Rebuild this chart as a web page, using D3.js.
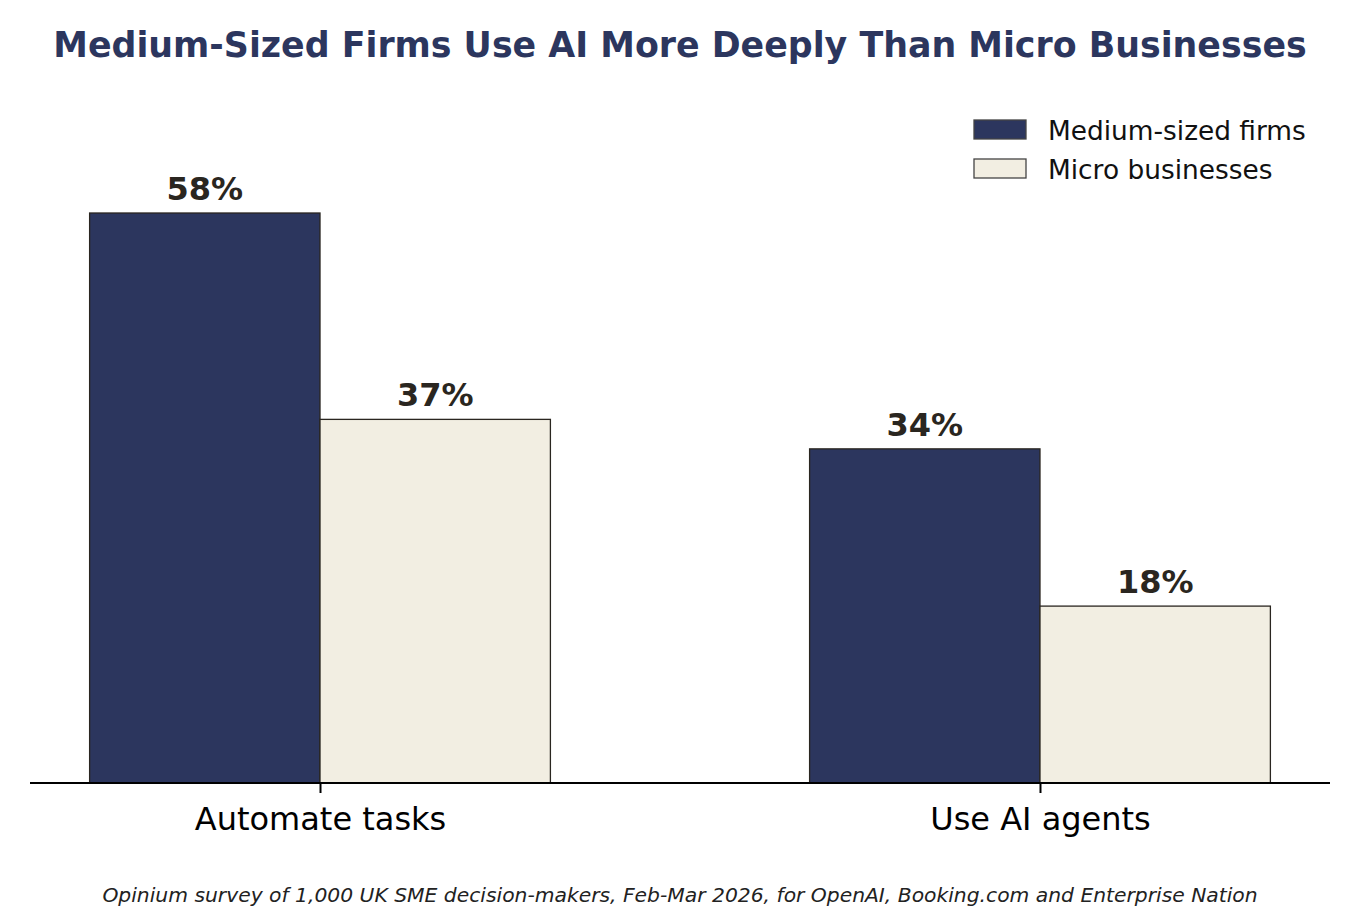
<!DOCTYPE html>
<html><head><meta charset="utf-8">
<script src="https://cdn.jsdelivr.net/npm/d3@7"></script>
<style>body{margin:0;background:#fff}svg{display:block}text{font-family:"DejaVu Sans",sans-serif}</style>
</head><body>
<script>
const categories = ["Automate tasks", "Use AI agents"];
const seriesNames = ["Medium-sized firms", "Micro businesses"];
const mediumValues = [58, 34];
const microValues = [37, 18];
const colors = ["#2c365e", "#f2eee2"];

const W = 1360, H = 919;
const svg = d3.select("body").append("svg").attr("width", W).attr("height", H);

const x = d3.scaleLinear().domain([-0.4028, 1.4028]).range([30, 1330]);
const y = d3.scaleLinear().domain([0, 58]).range([783, 213]);
const bw = 0.32;

const series = [mediumValues, microValues];
series.forEach((vals, si) => {
  const off = si === 0 ? -bw : 0;
  const g = svg.append("g");
  g.selectAll("rect").data(vals).join("rect")
    .attr("x", (d, i) => x(i + off))
    .attr("width", x(bw) - x(0))
    .attr("y", d => y(d))
    .attr("height", d => y(0) - y(d))
    .attr("fill", colors[si])
    .attr("stroke", "#2a2620").attr("stroke-width", 1.3);
  g.selectAll("text").data(vals).join("text")
    .attr("x", (d, i) => x(i + off + bw / 2))
    .attr("y", d => y(d) - 13)
    .attr("text-anchor", "middle")
    .attr("font-size", 32).attr("font-weight", "bold").attr("fill", "#2a2620")
    .text(d => d + "%");
});

// x axis
const xAxis = d3.axisBottom(x).tickValues([0, 1]).tickFormat(i => categories[i]).tickSize(10).tickSizeOuter(0);
const ax = svg.append("g").attr("transform", `translate(0,${y(0)})`).call(xAxis);
ax.select(".domain").attr("stroke", "#000").attr("stroke-width", 2).attr("d", `M30,0H1330`);
ax.selectAll(".tick line").attr("stroke", "#000").attr("stroke-width", 2);
ax.selectAll(".tick text").attr("font-size", 32).attr("fill", "#000").attr("dy", "34px")
  .attr("font-family", "DejaVu Sans");

// title
svg.append("text").attr("x", 680).attr("y", 57).attr("text-anchor", "middle")
  .attr("font-size", 34.8).attr("font-weight", "bold").attr("fill", "#2c365e")
  .text("Medium-Sized Firms Use AI More Deeply Than Micro Businesses");

// legend
const leg = svg.append("g");
seriesNames.forEach((n, i) => {
  const yy = 130 + i * 39;
  leg.append("rect").attr("x", 974).attr("y", yy - 10).attr("width", 52).attr("height", 19)
    .attr("fill", colors[i]).attr("stroke", "#444").attr("stroke-width", 1.3);
  leg.append("text").attr("x", 1048).attr("y", yy + 10).attr("font-size", 26.4).attr("fill", "#111").text(n);
});

// footnote
svg.append("text").attr("x", 680).attr("y", 902).attr("text-anchor", "middle")
  .attr("font-size", 20.3).attr("font-style", "italic").attr("fill", "#222")
  .text("Opinium survey of 1,000 UK SME decision-makers, Feb-Mar 2026, for OpenAI, Booking.com and Enterprise Nation");
</script>
</body></html>
